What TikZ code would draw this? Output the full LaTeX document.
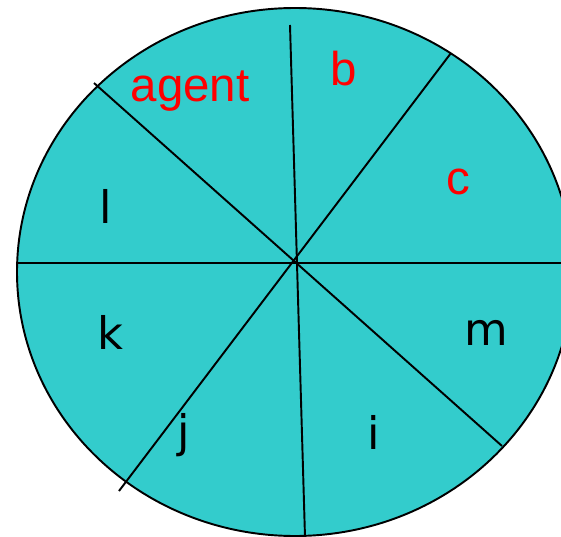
\documentclass[tikz,border=0pt]{standalone}
\usepackage{fontspec}
\setmainfont{Liberation Sans}
\newfontfamily\letterfont{DejaVu Sans}
\definecolor{wheelfill}{HTML}{33CCCC}
\begin{document}
\begin{tikzpicture}[x=0.02cm, y=-0.02cm, line width=1.1pt,
  every node/.style={inner sep=0pt, anchor=base},
  redlabel/.style={text=red, font=\fontsize{27}{32}\selectfont},
  blacklabel/.style={text=black, font=\letterfont\fontsize{25.5}{30}\selectfont}]
  \useasboundingbox (0,0) rectangle (561,537);
  \filldraw[fill=wheelfill] (295,272) ellipse [x radius=278, y radius=264];
  % spoke ends
  \coordinate (ul) at (94,83);   \coordinate (lr) at (502,446);
  \coordinate (ur) at (451,53);  \coordinate (ll) at (119,491);
  \coordinate (top) at (290,25); \coordinate (bot) at (305,537);
  \coordinate (west) at (17,263); \coordinate (east) at (575,263);
  \draw (ul) -- (lr);
  \draw (ur) -- (ll);
  \draw (top) -- (bot);
  \draw (west) -- (east);
  % sector labels
  \node[redlabel] (agent) at (190,102) {agent};
  \node[redlabel] (b) at (344,86) {b};
  \node[redlabel] (c) at (458,194) {c};
  \node[blacklabel] (l) at (106,223) {l};
  \node[blacklabel] (k) at (110,349) {k};
  \node[blacklabel] (m) at (486,345) {m};
  \node[blacklabel] (j) at (184,447) {j};
  \node[blacklabel] (i) at (374,449) {i};
\end{tikzpicture}
\end{document}
